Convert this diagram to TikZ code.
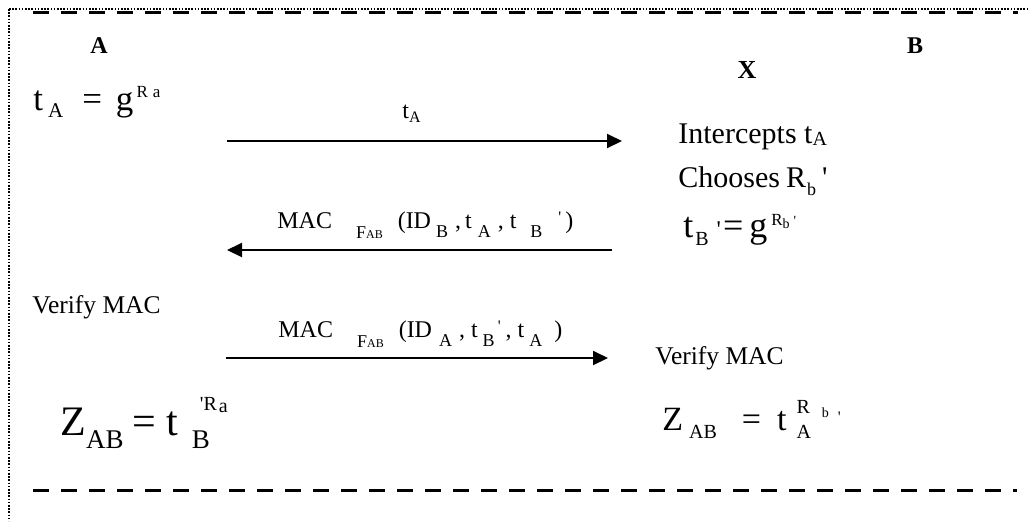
\documentclass[tikz,border=0pt]{standalone}
\usepackage{fontspec}
\setmainfont{Liberation Serif}
\usetikzlibrary{arrows.meta}
\newcommand{\offs}[3]{\raisebox{#2}{\fontsize{#1}{#1}\selectfont #3}}
\newcommand{\apos}{\textquotesingle}

\begin{document}
\begin{tikzpicture}[x=0.5pt, y=-0.5pt,
        party/.style={anchor=base, inner sep=0pt, font=\fontsize{12}{12}\selectfont\bfseries},
        txt/.style={anchor=base west, inner sep=0pt},
        msg/.style={line width=1pt, -{Triangle[length=7.5pt, width=7pt]}},
        frame/.style={line width=0.6pt, dash pattern=on 0.8pt off 0.8pt},
        rulebar/.style={line width=1.5pt, dash pattern=on 8pt off 6pt}
    ]
        \useasboundingbox (0,0) rectangle (1029,521);

        \draw[frame] (9,9) -- (1029,9);
        \draw[frame] (9,9) -- (9,521);
        \draw[rulebar] (33,12) -- (1018,12);
        \draw[rulebar] (33,490) -- (1017,490);

        \node[party] (pa) at (99,53) {A};
        \node[party] (pb) at (915,53) {B};
        \node[party, font=\fontsize{13}{13}\selectfont\bfseries] (px) at (747,78) {X};

        \node[txt, font=\fontsize{17.5}{18}\selectfont] (ta) at (33,110)
            {t\hspace{2.5pt}\offs{10.5}{-3.5pt}{A}\hspace{9.5pt}=\hspace{7pt}g\hspace{1.5pt}\offs{8.5}{6.5pt}{R\hspace{2.5pt}a}};

        \coordinate (m1s) at (227,141);
        \coordinate (m1e) at (622,141);
        \draw[msg] (m1s) -- (m1e);
        \node[txt, font=\fontsize{12}{12}\selectfont] (lbl1) at (402,118) {t\offs{8}{-2pt}{A}};

        \node[txt, font=\fontsize{15}{15}\selectfont] (icpt) at (678,143) {Intercepts t\offs{10}{-1pt}{A}};
        \node[txt, font=\fontsize{15}{15}\selectfont] (chs) at (678,187)
            {Chooses\hspace{3pt}R\hspace{0.5pt}\offs{9}{-4pt}{b}\hspace{3pt}\apos};
        \node[txt, font=\fontsize{18}{18}\selectfont] (tbp) at (683,237)
            {t\hspace{1pt}\offs{10}{-4pt}{B}\hspace{4pt}\offs{12}{0pt}{\apos}\hspace{1pt}=\hspace{3pt}g\hspace{2pt}\offs{8.5}{6pt}{R}\offs{7}{4.5pt}{b}\hspace{2pt}\offs{7}{6pt}{\apos}};

        \coordinate (m2s) at (612,250);
        \coordinate (m2e) at (227,250);
        \draw[msg] (m2s) -- (m2e);
        \node[txt, font=\fontsize{12}{12}\selectfont] (lbl2) at (277,228)
            {MAC\hspace{12pt}\offs{9}{-5pt}{F\offs{6}{0pt}{AB}}\hspace{7.5pt}(ID\hspace{2.5pt}\offs{9}{-4.5pt}{B}\hspace{3.5pt},\hspace{2pt}t\hspace{3pt}\offs{9}{-4.5pt}{A}\hspace{3.5pt},\hspace{3pt}t\hspace{7pt}\offs{9}{-4.5pt}{B}\hspace{8pt}\offs{8}{3pt}{\apos}\hspace{2pt})};

        \node[txt, font=\fontsize{12.75}{13}\selectfont] (vfa) at (32,313) {Verify MAC};

        \coordinate (m3s) at (226,358);
        \coordinate (m3e) at (608,358);
        \draw[msg] (m3s) -- (m3e);
        \node[txt, font=\fontsize{12}{12}\selectfont] (lbl3) at (278,337)
            {MAC\hspace{12pt}\offs{9}{-5pt}{F\offs{6}{0pt}{AB}}\hspace{7.5pt}(ID\hspace{3.5pt}\offs{9}{-4.5pt}{A}\hspace{3.5pt},\hspace{3pt}t\hspace{2.5pt}\offs{9}{-4.5pt}{B}\hspace{1.5pt}\offs{8}{3pt}{\apos}\hspace{2.5pt},\hspace{3pt}t\hspace{2.5pt}\offs{9}{-4.5pt}{A}\hspace{6pt})};

        \node[txt, font=\fontsize{12.75}{13}\selectfont] (vfb) at (655,364) {Verify MAC};

        \node[txt, font=\fontsize{21}{21}\selectfont] (zab) at (60,435)
            {Z\offs{13.5}{-6.5pt}{AB}\hspace{4.5pt}=\hspace{5pt}t\hspace{7pt}\offs{13.5}{-6.5pt}{B}\hspace{-5pt}\offs{10}{12.5pt}{\apos R}\hspace{1pt}\offs{10}{11.5pt}{a}};
        \node[txt, font=\fontsize{17}{17}\selectfont] (zba) at (662,430)
            {Z\hspace{3pt}\offs{10}{-4pt}{AB}\hspace{12.5pt}=\hspace{8pt}t\hspace{5pt}\offs{10}{-4pt}{A}\hspace{-7.2pt}\offs{10}{8.5pt}{R}\hspace{6pt}\offs{7}{6.5pt}{b}\hspace{4.5pt}\offs{8}{4pt}{\apos}};
    \end{tikzpicture}
\end{document}
